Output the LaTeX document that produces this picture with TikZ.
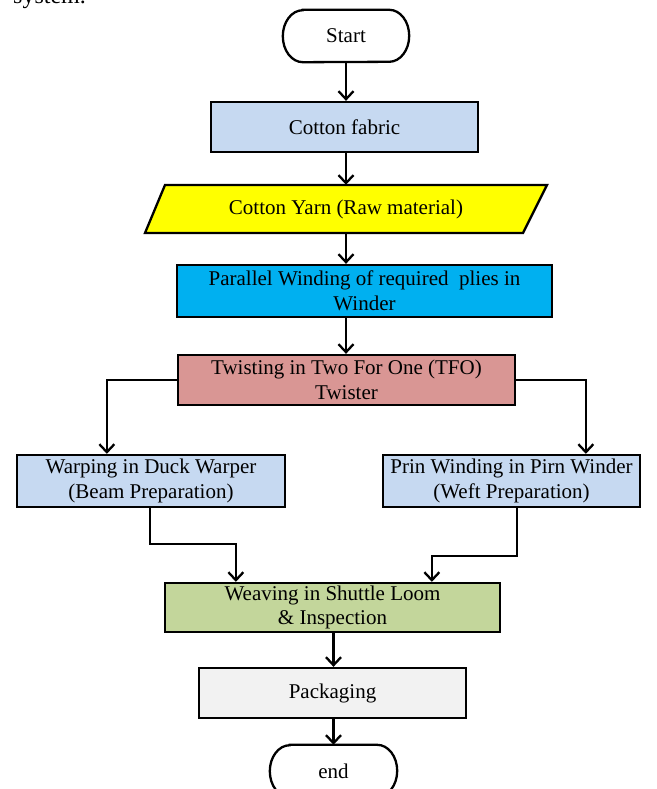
\documentclass[tikz,border=0pt]{standalone}
\usepackage{fontspec}
\setmainfont{Liberation Serif}
\usetikzlibrary{arrows.meta}
\definecolor{paleblue}{RGB}{198,217,241}
\definecolor{skyblue}{RGB}{0,176,240}
\definecolor{rosered}{RGB}{217,150,148}
\definecolor{olivegreen}{RGB}{195,214,155}
\definecolor{palegray}{RGB}{242,242,242}
\definecolor{pureyellow}{RGB}{255,255,0}
\tikzset{
  boxnode/.style={draw=black, line width=2.3pt, align=center, inner sep=0pt,
    font=\fontsize{21pt}{24.5pt}\selectfont},
  plainnode/.style={align=center, inner sep=0pt, font=\fontsize{21pt}{24.5pt}\selectfont},
  arr/.style={line width=2.3pt, -{Straight Barb[length=8pt,width=15pt,line width=2.3pt]}},
  outline/.style={draw=black, line width=2.3pt}
}
\begin{document}
\begin{tikzpicture}[x=1pt,y=-1pt]
\useasboundingbox (0,0) rectangle (656,789);
\clip (0,0) rectangle (656,789);

\node[plainnode, anchor=base west, font=\fontsize{24pt}{28pt}\selectfont] (caption) at (13,4) {system.};

% Start terminal
\node[plainnode, minimum width=126pt, minimum height=52pt] (start) at (346,36) {};
\draw[outline, fill=white] ([xshift=20pt]start.north west) -- ([xshift=-20pt]start.north east)
  arc[start angle=90, end angle=-90, x radius=20pt, y radius=26pt]
  -- ([xshift=20pt]start.south west)
  arc[start angle=270, end angle=90, x radius=20pt, y radius=26pt] -- cycle;
\node[plainnode] (starttext) at (start.center) {Start};

\node[boxnode, fill=paleblue, minimum width=267pt, minimum height=50pt] (fabric) at (344.5,127) {Cotton fabric};

% Yarn parallelogram
\node[plainnode, minimum width=380pt, minimum height=48pt] (yarn) at (346,209) {};
\draw[outline, fill=pureyellow] (165,185) -- (547,185) -- (523,233) -- (145,233) -- cycle;
\node[plainnode] (yarntext) at (yarn.center) {Cotton Yarn (Raw material)};

\node[boxnode, fill=skyblue, minimum width=375pt, minimum height=52pt] (parallel) at (364.5,291) {Parallel Winding of required~ plies in\\Winder};

\node[boxnode, fill=rosered, minimum width=337pt, minimum height=50pt] (twist) at (346.5,380) {Twisting in Two For One (TFO)\\Twister};

\node[boxnode, fill=paleblue, minimum width=268pt, minimum height=52pt] (warp) at (151,481) {Warping in Duck Warper\\(Beam Preparation)};

\node[boxnode, fill=paleblue, minimum width=257pt, minimum height=52pt] (prin) at (511.5,481) {Prin Winding in Pirn Winder\\(Weft Preparation)};

\node[boxnode, fill=olivegreen, minimum width=335pt, minimum height=49pt] (weave) at (332.5,607.5) {Weaving in Shuttle Loom\\\& Inspection};

\node[boxnode, fill=palegray, minimum width=267pt, minimum height=50pt] (pack) at (332.5,693) {Packaging};

% end terminal
\node[plainnode, minimum width=127pt, minimum height=52pt] (finish) at (333.5,771) {};
\draw[outline, fill=white] ([xshift=20pt]finish.north west) -- ([xshift=-20pt]finish.north east)
  arc[start angle=90, end angle=-90, x radius=20pt, y radius=26pt]
  -- ([xshift=20pt]finish.south west)
  arc[start angle=270, end angle=90, x radius=20pt, y radius=26pt] -- cycle;
\node[plainnode] (finishtext) at (finish.center) {end};

% connectors
\draw[arr] (start.south) -- (start.south |- fabric.north);
\draw[arr] (start.south |- fabric.south) -- (start.south |- yarn.north);
\draw[arr] (start.south |- yarn.south) -- (start.south |- parallel.north);
\draw[arr] (start.south |- parallel.south) -- (start.south |- twist.north);
\draw[arr] (twist.west) -| ([xshift=91pt]warp.north west);
\draw[arr] (twist.east) -| ([xshift=204pt]prin.north west);
\draw[arr] ([xshift=-1pt]warp.south) -- ++(0,36) -| ([xshift=72pt]weave.north west);
\draw[arr] ([xshift=135pt]prin.south west) -- ++(0,48) -| ([xshift=268pt]weave.north west);
\draw[arr] ([xshift=1pt]weave.south) -- ([xshift=1pt]pack.north);
\draw[arr] ([xshift=1pt]pack.south) -- ([xshift=1pt]pack.south |- finish.north);
\end{tikzpicture}
\end{document}
